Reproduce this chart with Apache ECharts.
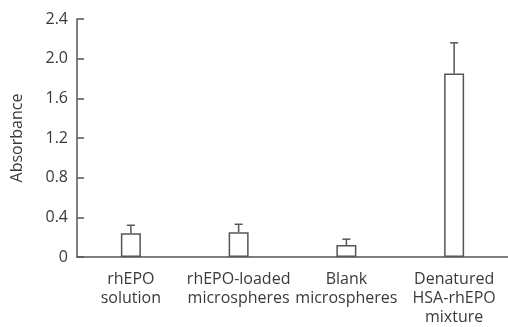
<!DOCTYPE html>
<html>
<head>
<meta charset="utf-8">
<script src="https://cdn.jsdelivr.net/npm/echarts@6/dist/echarts.min.js"></script>
<style>
  html, body { margin: 0; padding: 0; background: #fff; }
  #chart { width: 508px; height: 327px; }
</style>
</head>
<body>
<div id="chart"></div>
<script>
// Absorbance of each preparation (mean with upper SD)
const categories = [
  'rhEPO\nsolution',
  'rhEPO-loaded\nmicrospheres',
  'Blank\nmicrospheres',
  'Denatured\nHSA-rhEPO\nmixture'
];
const means = [0.24, 0.25, 0.12, 1.85];
const errors = [0.08, 0.08, 0.06, 0.31];
const yTicks = [0, 0.4, 0.8, 1.2, 1.6, 2.0, 2.4];

const ink = '#555';
const textColor = '#3a3a3a';
const font = 'Open Sans';

const chart = echarts.init(document.getElementById('chart'), null, { renderer: 'canvas' });

chart.setOption({
  animation: false,
  grid: { left: 77, right: -1, top: 19, bottom: 70 },
  xAxis: {
    type: 'category',
    data: categories,
    axisLine: { lineStyle: { color: ink, width: 1.5 } },
    axisTick: { show: false },
    axisLabel: {
      color: textColor, fontFamily: font, fontSize: 16,
      lineHeight: 19, margin: 13, interval: 0
    }
  },
  yAxis: {
    type: 'value',
    min: 0, max: 2.4, interval: 0.4,
    name: 'Absorbance',
    nameLocation: 'middle',
    nameGap: 52,
    nameTextStyle: { color: textColor, fontFamily: font, fontSize: 16 },
    axisLine: { show: true, lineStyle: { color: ink, width: 1.5 } },
    axisTick: { show: true, inside: true, length: 7, lineStyle: { color: ink, width: 1.5 } },
    splitLine: { show: false },
    axisLabel: {
      color: textColor, fontFamily: font, fontSize: 16, margin: 9,
      formatter: v => {
        const t = yTicks.find(k => Math.abs(k - v) < 1e-6);
        return t === 0 ? '0' : t.toFixed(1);
      }
    }
  },
  series: [
    {
      type: 'bar',
      data: means,
      barWidth: 20,
      itemStyle: { color: '#fff', borderColor: ink, borderWidth: 1.5 },
      z: 2
    },
    {
      type: 'custom',
      data: means.map((m, i) => [i, m, m + errors[i]]),
      renderItem: (params, api) => {
        const base = api.coord([api.value(0), api.value(1)]);
        const top = api.coord([api.value(0), api.value(2)]);
        const half = 4;
        const style = { stroke: ink, lineWidth: 1.5 };
        return {
          type: 'group',
          children: [
            { type: 'line', shape: { x1: base[0], y1: base[1], x2: top[0], y2: top[1] }, style },
            { type: 'line', shape: { x1: top[0] - half, y1: top[1], x2: top[0] + half, y2: top[1] }, style }
          ]
        };
      },
      z: 3
    }
  ]
});
</script>
</body>
</html>
